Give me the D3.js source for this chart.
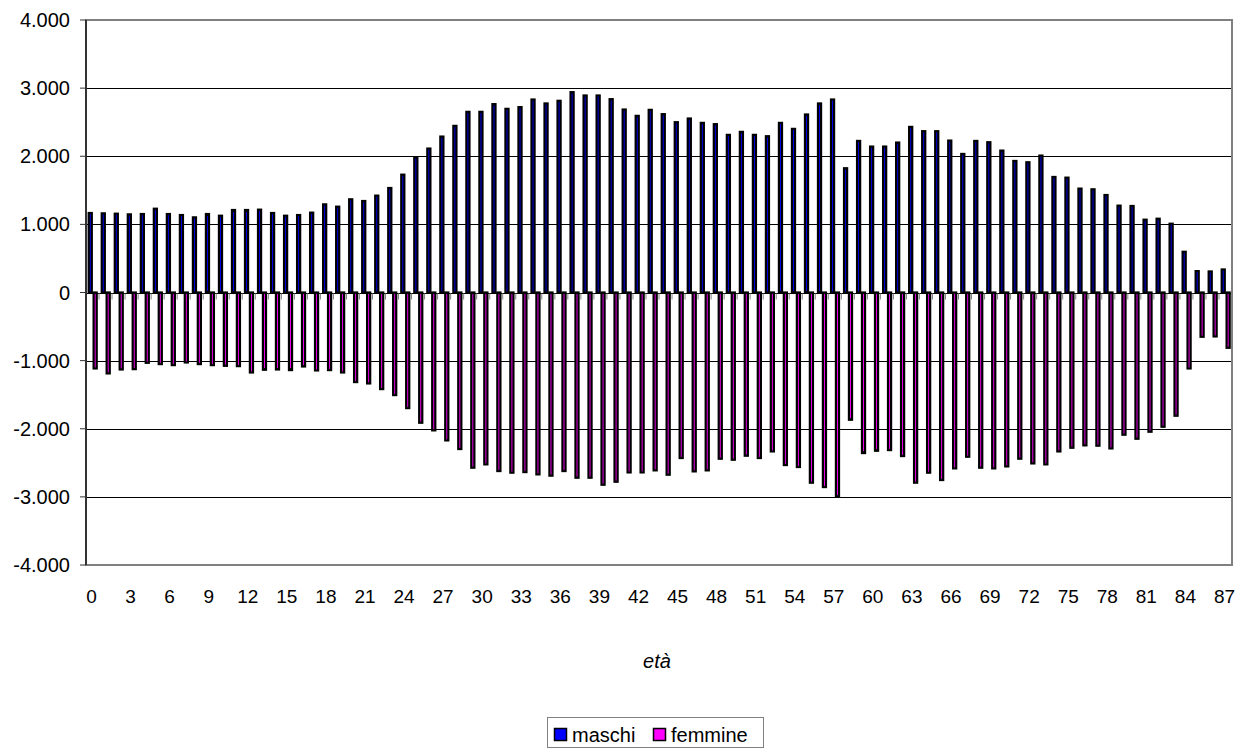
<html>
<head>
<style>
    body {
        margin: 0;
        background: #FFFFFF;
        font-family: Arial, "Liberation Sans", Helvetica, sans-serif;
    }
</style>
<script src="https://d3js.org/d3.v7.min.js"></script>
</head>
<body>
<svg id="Chart"></svg>
</body>
<script>

// età 0..87
let ages = d3.range(0, 88)

let maschi = [
  1167, 1162, 1157, 1147, 1152, 1230, 1152, 1137, 1103, 1152,
  1127, 1211, 1211, 1216, 1167, 1127, 1137, 1172, 1294, 1260,
  1368, 1343, 1422, 1534, 1730, 1985, 2113, 2289, 2446, 2652,
  2652, 2765, 2696, 2721, 2833, 2775, 2814, 2941, 2892, 2892,
  2838, 2686, 2593, 2681, 2618, 2500, 2554, 2490, 2471, 2314,
  2358, 2314, 2294, 2490, 2402, 2613, 2775, 2833, 1824, 2225,
  2142, 2142, 2201, 2431, 2368, 2368, 2230, 2034, 2225, 2206,
  2083, 1931, 1912, 2010, 1696, 1686, 1525, 1515, 1431, 1275,
  1270, 1069, 1083, 1010, 598, 314, 309, 338
]

let femmine = [
  -1115, -1188, -1130, -1125, -1032, -1051, -1066, -1027, -1051, -1066,
  -1076, -1081, -1174, -1134, -1130, -1139, -1086, -1144, -1139, -1174,
  -1315, -1335, -1418, -1506, -1697, -1912, -2024, -2171, -2298, -2572,
  -2523, -2621, -2645, -2636, -2670, -2689, -2621, -2719, -2719, -2822,
  -2778, -2641, -2641, -2611, -2675, -2430, -2626, -2611, -2440, -2455,
  -2396, -2430, -2333, -2533, -2562, -2792, -2856, -2998, -1868, -2357,
  -2323, -2313, -2401, -2792, -2645, -2753, -2582, -2411, -2572, -2582,
  -2553, -2440, -2509, -2523, -2333, -2279, -2244, -2249, -2289, -2088,
  -2147, -2044, -1971, -1809, -1115, -650, -645, -812
]

let yTicks = [-4000, -3000, -2000, -1000, 0, 1000, 2000, 3000, 4000]
let series = ["maschi", "femmine"]
let colors = {maschi: "#0000FF", femmine: "#FF00FF"}

let it = d3.formatLocale({decimal: ",", thousands: ".", grouping: [3], currency: ["", " €"], minus: "-"})
let fmt = it.format(",")

function getConfig() {
  let width = 1240, height = 749
  let container = d3.select("#Chart")
    .attr("width", width)
    .attr("height", height)
  let plot = {left: 86, right: 1232, top: 20, bottom: 565}
  return {width, height, container, plot}
}

function drawChart() {
  let {container, plot} = getConfig()

  let x = d3.scaleBand().domain(ages).range([plot.left, plot.right])
  let xSub = d3.scaleBand().domain(series).range([1.6, x.bandwidth() - 1.6])
  let y = d3.scaleLinear().domain([-4000, 4000]).range([plot.bottom, plot.top])

  // gridlines
  container.append("g").selectAll("line")
    .data(yTicks.filter(d => d != 4000 && d != -4000))
    .enter().append("line")
    .attr("x1", plot.left).attr("x2", plot.right)
    .attr("y1", d => Math.round(y(d)) + 0.5).attr("y2", d => Math.round(y(d)) + 0.5)
    .attr("stroke", "#000000")
    .attr("stroke-width", 1)

  // bars
  let rows = ages.map((a, i) => ({age: a, maschi: maschi[i], femmine: femmine[i]}))
  let groups = container.append("g").selectAll("g")
    .data(rows).enter().append("g")
    .attr("transform", d => `translate(${x(d.age)},0)`)

  groups.selectAll("rect")
    .data(d => series.map(s => ({key: s, value: d[s]})))
    .enter().append("rect")
    .attr("x", d => xSub(d.key) + 1.1)
    .attr("width", xSub.bandwidth() - 1.8)
    .attr("y", d => y(Math.max(0, d.value)))
    .attr("height", d => Math.abs(y(d.value) - y(0)))
    .attr("fill", d => colors[d.key])
    .attr("stroke", "#000000")
    .attr("stroke-width", 2.2)

  // category axis at zero
  let y0 = Math.round(y(0)) + 0.5
  container.append("line")
    .attr("x1", plot.left).attr("x2", plot.right)
    .attr("y1", y0).attr("y2", y0)
    .attr("stroke", "#000000")
  container.append("g").selectAll("line")
    .data(ages.slice(1))
    .enter().append("line")
    .attr("x1", d => x(d)).attr("x2", d => x(d))
    .attr("y1", y0).attr("y2", y0 + 6)
    .attr("stroke", "#808080")
    .attr("stroke-width", 1)

  // plot border
  container.append("rect")
    .attr("x", plot.left).attr("y", plot.top)
    .attr("width", plot.right - plot.left)
    .attr("height", plot.bottom - plot.top)
    .attr("fill", "none")
    .attr("stroke", "#808080")
    .attr("stroke-width", 2)

  // value axis
  container.append("line")
    .attr("x1", plot.left).attr("x2", plot.left)
    .attr("y1", plot.top).attr("y2", plot.bottom)
    .attr("stroke", "#333333")
    .attr("stroke-width", 2)
  let yAxis = container.append("g")
  yAxis.selectAll("line").data(yTicks).enter().append("line")
    .attr("x1", plot.left - 6).attr("x2", plot.left)
    .attr("y1", d => y(d)).attr("y2", d => y(d))
    .attr("stroke", "#333333")
  yAxis.selectAll("text").data(yTicks).enter().append("text")
    .attr("x", 70)
    .attr("y", d => y(d) + 7)
    .attr("text-anchor", "end")
    .style("font-size", "20px")
    .attr("fill", "#000000")
    .text(d => fmt(d))

  // category labels
  container.append("g").selectAll("text")
    .data(ages.filter(a => a % 3 == 0))
    .enter().append("text")
    .attr("x", d => x(d) + x.bandwidth() / 2 - 1)
    .attr("y", 603)
    .attr("text-anchor", "middle")
    .style("font-size", "19px")
    .text(d => d)

  container.append("text")
    .attr("x", 657).attr("y", 668)
    .attr("text-anchor", "middle")
    .style("font-size", "20px")
    .style("font-style", "italic")
    .text("età")

  // legend
  let legend = container.append("g")
  legend.append("rect")
    .attr("x", 547.5).attr("y", 717.5)
    .attr("width", 216).attr("height", 30)
    .attr("fill", "#FFFFFF")
    .attr("stroke", "#808080")
  let items = legend.selectAll("g").data(series).enter().append("g")
    .attr("transform", (d, i) => `translate(${[554, 653][i]},0)`)
  items.append("rect")
    .attr("x", 0.5).attr("y", 728.5)
    .attr("width", 12).attr("height", 12)
    .attr("fill", d => colors[d])
    .attr("stroke", "#000000")
    .attr("stroke-width", 1.5)
  items.append("text")
    .attr("x", 18).attr("y", 742)
    .style("font-size", "20px")
    .text(d => d)
}

drawChart()

</script>
</html>
